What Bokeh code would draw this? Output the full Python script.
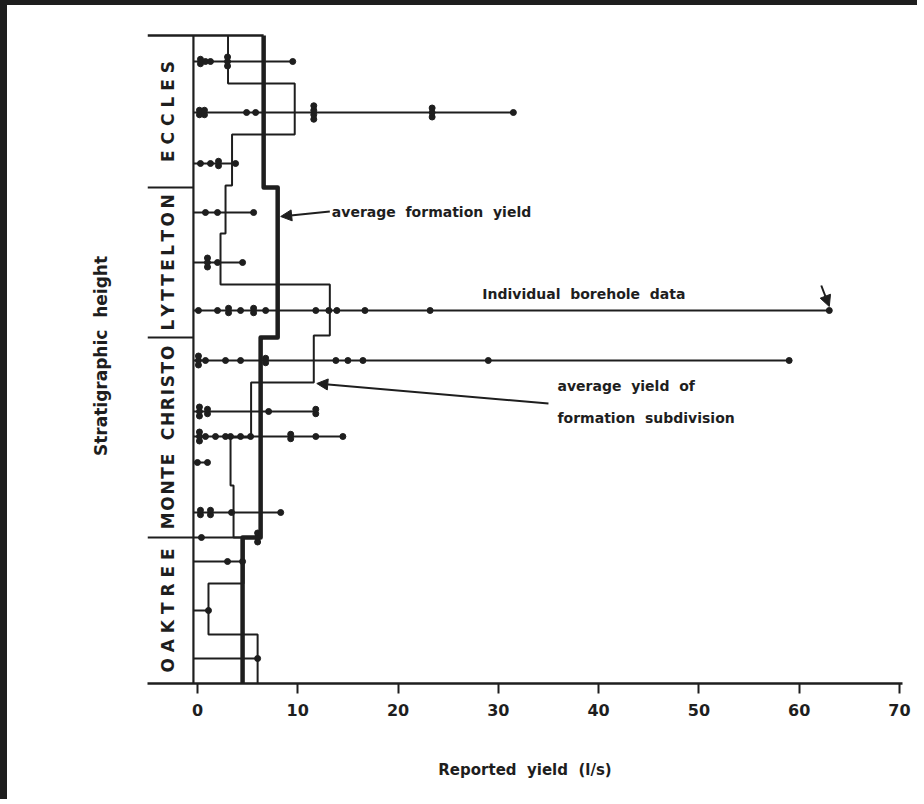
import math
from bokeh.plotting import figure
from bokeh.models import Range1d, FixedTicker, Arrow, NormalHead
from bokeh.core.properties import value
from bokeh.embed import file_html
from bokeh.resources import INLINE

# ---------------- data ----------------
# formations, bottom to top; heights are relative stratigraphic height units
formations = ["OAKTREE", "MONTE CHRISTO", "LYTTELTON", "ECCLES"]
formation_bounds = [0.0, 14.6, 34.6, 49.6, 64.8]
formation_avg = [4.5, 6.3, 8.0, 6.6]          # average formation yield (l/s)

# formation subdivisions, bottom to top
sub_bounds = [0.0, 4.9, 10.0, 14.6, 19.8, 24.6, 30.1, 34.8, 39.9, 45.0, 49.8, 54.9, 60.0, 64.8]
sub_avg = [6.0, 1.1, 4.6, 3.6, 3.3, 5.35, 11.6, 13.2, 2.3, 2.8, 3.45, 9.7, 3.05]

# individual borehole data: one row per group of boreholes
row_heights = [2.5, 7.3, 12.2, 14.6, 17.1, 22.1, 24.7, 27.2, 32.3, 37.3, 42.1, 47.1, 52.0, 57.1, 62.2]
row_values = [
    [6.0],
    [1.1],
    [3.0, 4.5],
    [0.4, 6.0, 6.0, 6.0],
    [0.3, 0.3, 1.3, 1.3, 3.4, 8.3],
    [0.0, 1.0],
    [0.2, 0.2, 0.2, 0.8, 1.8, 2.8, 3.3, 4.3, 5.3, 9.3, 9.3, 11.8, 14.5],
    [0.2, 0.2, 0.2, 1.0, 1.0, 7.1, 11.8, 11.8],
    [0.1, 0.1, 0.1, 0.8, 2.8, 4.3, 6.8, 6.8, 13.8, 15.0, 16.5, 29.0, 59.0],
    [0.1, 2.0, 3.1, 3.1, 4.3, 5.6, 5.6, 6.8, 11.8, 13.1, 13.9, 16.7, 23.2, 63.0],
    [1.0, 1.0, 1.0, 2.0, 4.5],
    [0.8, 2.0, 5.6],
    [0.3, 1.3, 2.1, 2.1, 3.8],
    [0.2, 0.2, 0.7, 0.7, 4.9, 5.8, 11.6, 11.6, 11.6, 11.6, 23.4, 23.4, 23.4, 31.5],
    [0.3, 0.3, 0.8, 1.3, 3.0, 3.0, 3.0, 9.5],
]

x_ticks = [0, 10, 20, 30, 40, 50, 60, 70]

# ---------------- styling ----------------
INK = "#1e1e1e"
FONT = "DejaVu Sans"
SP = "\u00a0\u00a0"    # wide word gap as lettered on the original
AXIS_X = -0.4          # position of the drawn stratigraphic axis
STACK = 0.45           # vertical spacing of coincident points
# letter tracking used for each formation name (space, thin space, hair space)
tracking = [" ", "\u200a", "\u2009", " "]


def tracked(name, gap):
    words = name.split(" ")
    return (SP + gap).join(gap.join(w) for w in words)


formation_labels = [tracked(n, g) for n, g in zip(formations, tracking)]

p = figure(width=917, height=799, output_backend="svg", toolbar_location=None,
           x_range=Range1d(-4.98, 70.3), y_range=Range1d(0, 65.5),
           min_border_left=140, min_border_right=22, min_border_top=23, min_border_bottom=121)
p.styles = {"border-left": "7px solid #1e1e1e", "border-top": "5px solid #1e1e1e"}
p.background_fill_color = "white"
p.border_fill_color = "white"
p.outline_line_color = None
p.grid.visible = False

xa = p.xaxis[0]
xa.ticker = FixedTicker(ticks=x_ticks)
xa.minor_tick_line_color = None
xa.major_tick_in = 0
xa.major_tick_out = 10
xa.major_tick_line_width = 2
xa.major_tick_line_color = INK
xa.axis_line_width = 2.5
xa.axis_line_color = INK
xa.major_label_text_font = FONT
xa.major_label_text_font_style = "bold"
xa.major_label_text_font_size = "16px"
xa.major_label_text_color = INK
xa.major_label_standoff = 10
xa.axis_label = "Reported" + SP + "yield" + SP + "(l/s)"
xa.axis_label_text_font = FONT
xa.axis_label_text_font_style = "bold"
xa.axis_label_text_font_size = "15px"
xa.axis_label_text_color = INK
xa.axis_label_standoff = 42

ya = p.yaxis[0]
ya.ticker = FixedTicker(ticks=[])
ya.axis_line_color = None
ya.major_tick_line_color = None
ya.minor_tick_line_color = None
ya.axis_label = "Stratigraphic" + SP + "height"
ya.axis_label_text_font = FONT
ya.axis_label_text_font_style = "bold"
ya.axis_label_text_font_size = "17px"
ya.axis_label_text_color = INK
ya.axis_label_standoff = 37

x_left = p.x_range.start
top = formation_bounds[-1]

# stratigraphic axis and formation separators
p.segment(x0=[AXIS_X], y0=[formation_bounds[0]], x1=[AXIS_X], y1=[top], line_color=INK, line_width=2.2)
p.segment(x0=[x_left] * 3, y0=formation_bounds[1:4], x1=[AXIS_X] * 3, y1=formation_bounds[1:4],
          line_color=INK, line_width=2.2)
p.segment(x0=[x_left], y0=[top], x1=[formation_avg[-1]], y1=[top], line_color=INK, line_width=2.5)

# formation names
mids = [(formation_bounds[i] + formation_bounds[i + 1]) / 2 for i in range(len(formations))]
p.text(x=[-2.9] * len(formations), y=mids, text=formation_labels, angle=math.pi / 2,
       text_align="center", text_baseline="middle", text_font=value(FONT),
       text_font_style="bold", text_font_size="17px", text_color=INK)

# individual borehole rows
for h, vals in zip(row_heights, row_values):
    p.line(x=[AXIS_X, max(vals)], y=[h, h], line_color=INK, line_width=1.8)
    xs, ys = [], []
    for v in sorted(set(vals)):
        n = vals.count(v)
        for k in range(n):
            xs.append(v)
            ys.append(h + (k - (n - 1) / 2) * STACK)
    p.scatter(x=xs, y=ys, size=6, fill_color=INK, line_color=INK)

# average yield of formation subdivision (thin step line)
sx, sy = [], []
for i, a in enumerate(sub_avg):
    sx += [a, a]
    sy += [sub_bounds[i], sub_bounds[i + 1]]
p.line(x=sx, y=sy, line_color=INK, line_width=2)

# average formation yield (thick step line)
fx, fy = [], []
for i, a in enumerate(formation_avg):
    fx += [a, a]
    fy += [formation_bounds[i], formation_bounds[i + 1]]
p.line(x=fx, y=fy, line_color=INK, line_width=4.5, line_join="round")

# annotations
ann_kw = dict(text_font=value(FONT), text_font_size="14px", text_font_style="bold",
              text_color=INK, text_baseline="middle", text_align="left")
p.text(x=[13.4], y=[47.2], text=["average" + SP + "formation" + SP + "yield"], **ann_kw)
p.text(x=[28.4], y=[39.0], text=["Individual" + SP + "borehole" + SP + "data"], **ann_kw)
p.text(x=[35.9], y=[29.8], text=["average" + SP + "yield" + SP + "of"], **ann_kw)
p.text(x=[35.9], y=[26.6], text=["formation" + SP + "subdivision"], **ann_kw)

head = dict(size=11, fill_color=INK, line_color=INK)
p.add_layout(Arrow(end=NormalHead(**head), x_start=13.2, y_start=47.2, x_end=8.3, y_end=46.7,
                   line_color=INK, line_width=2))
p.add_layout(Arrow(end=NormalHead(**head), x_start=62.2, y_start=39.8, x_end=63.0, y_end=37.7,
                   line_color=INK, line_width=2))
p.add_layout(Arrow(end=NormalHead(**head), x_start=35.0, y_start=28.0, x_end=11.9, y_end=30.0,
                   line_color=INK, line_width=2))

open("out.html", "w").write(file_html(p, INLINE))
